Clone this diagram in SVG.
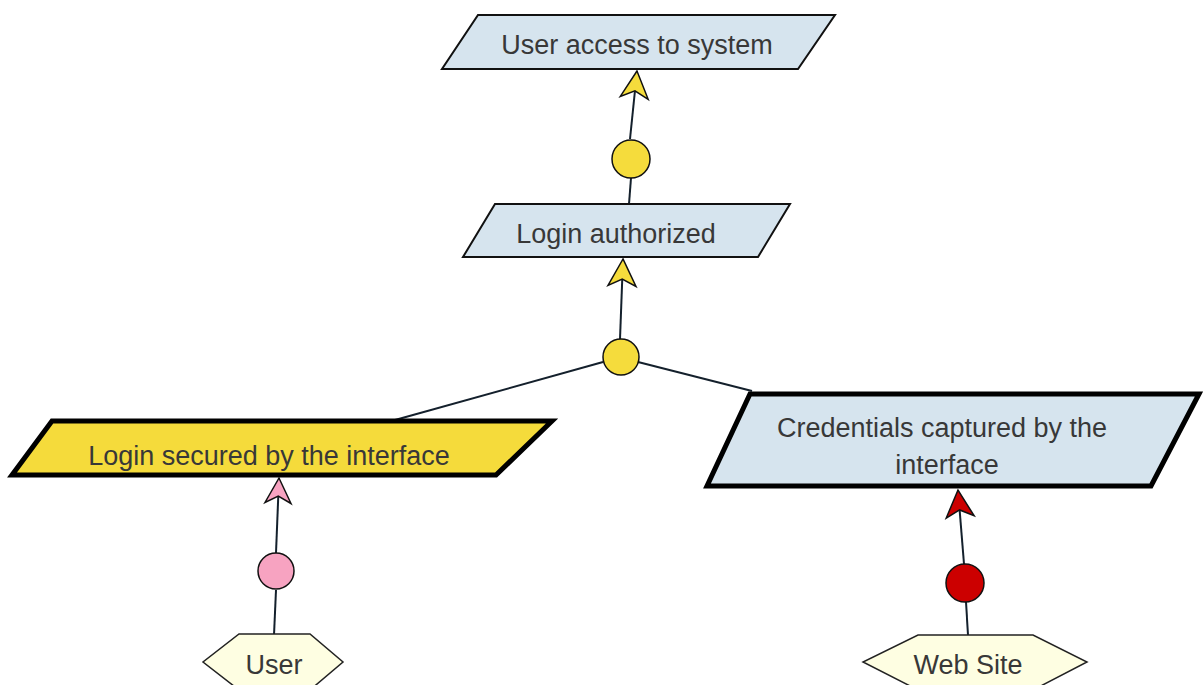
<svg xmlns="http://www.w3.org/2000/svg" width="1204" height="685" viewBox="0 0 1204 685">
<defs>
<style>
.goal{fill:#d6e4ee;stroke:#111;stroke-width:2;stroke-linejoin:miter}
.goalThick{fill:#d6e4ee;stroke:#000;stroke-width:5;stroke-linejoin:miter}
.yellowThick{fill:#f5db3b;stroke:#000;stroke-width:5;stroke-linejoin:miter}
.agent{fill:#fefee2;stroke:#222;stroke-width:1.5}
.txt{font-family:"Liberation Sans",Arial,sans-serif;font-size:27px;fill:#383838;text-anchor:middle}
.conn{stroke:#14202c;stroke-width:2;fill:none}
.ycirc{fill:#f5dc3c;stroke:#111;stroke-width:1.5}
.pcirc{fill:#f7a3c1;stroke:#111;stroke-width:1.5}
.rcirc{fill:#cc0000;stroke:#111;stroke-width:1.5}
</style>
<marker id="arrY" markerUnits="userSpaceOnUse" orient="auto" markerWidth="32" markerHeight="32" viewBox="-30 -16 32 32" refX="0" refY="0" overflow="visible">
<path d="M0,0 L-27,-14 L-20,0 L-27,14 Z" fill="#f5dc3c" stroke="#111" stroke-width="1.5" stroke-linejoin="miter"/>
</marker>
<marker id="arrP" markerUnits="userSpaceOnUse" orient="auto" markerWidth="32" markerHeight="32" viewBox="-30 -16 32 32" refX="0" refY="0" overflow="visible">
<path d="M0,0 L-25,-13 L-18,0 L-25,13 Z" fill="#f7a3c1" stroke="#111" stroke-width="1.5" stroke-linejoin="miter"/>
</marker>
<marker id="arrR" markerUnits="userSpaceOnUse" orient="auto" markerWidth="32" markerHeight="32" viewBox="-30 -16 32 32" refX="0" refY="0" overflow="visible">
<path d="M0,0 L-27,-14 L-20,0 L-27,14 Z" fill="#cc0000" stroke="#111" stroke-width="1.5" stroke-linejoin="miter"/>
</marker>
</defs>
<rect width="1204" height="685" fill="#fff"/>
<g id="connectors">
<line class="conn" x1="631" y1="178" x2="629" y2="204"/>
<line class="conn" x1="630" y1="139" x2="637" y2="71" marker-end="url(#arrY)"/>
<line class="conn" x1="620" y1="339" x2="623" y2="259" marker-end="url(#arrY)"/>
<line class="conn" x1="603" y1="362" x2="395" y2="420"/>
<line class="conn" x1="638" y1="362" x2="752" y2="391"/>
<line class="conn" x1="276" y1="553" x2="279" y2="478" marker-end="url(#arrP)"/>
<line class="conn" x1="276" y1="590" x2="274" y2="635"/>
<line class="conn" x1="964" y1="564" x2="958" y2="490" marker-end="url(#arrR)"/>
<line class="conn" x1="966" y1="602" x2="968" y2="635"/>
<circle class="ycirc" cx="631" cy="159" r="19"/>
<circle class="ycirc" cx="621" cy="357" r="18"/>
<circle class="pcirc" cx="276" cy="571" r="18"/>
<circle class="rcirc" cx="965" cy="583" r="19"/>
</g>
<g id="n1">
<polygon class="goal" points="478,15 835,15 798,69 442,69"/>
<text class="txt" x="637" y="54">User access to system</text>
</g>
<g id="n2">
<polygon class="goal" points="495,204 790,204 758,257 463,257"/>
<text class="txt" x="616" y="243">Login authorized</text>
</g>
<g id="n3">
<polygon class="yellowThick" points="52,421 552,421 496,475 12,475"/>
<text class="txt" x="269" y="465">Login secured by the interface</text>
</g>
<g id="n4">
<polygon class="goalThick" points="750,394 1199,394 1151,486 707,486"/>
<text class="txt" x="942" y="437">Credentials captured by the</text>
<text class="txt" x="947" y="474">interface</text>
</g>
<g id="n5">
<polygon class="agent" points="239,634 310,634 343,662 310,690 239,690 203,662"/>
<text class="txt" x="274" y="674">User</text>
</g>
<g id="n6">
<polygon class="agent" points="918,635 1033,635 1087,662 1033,690 918,690 863,662"/>
<text class="txt" x="968" y="674">Web Site</text>
</g>
</svg>
